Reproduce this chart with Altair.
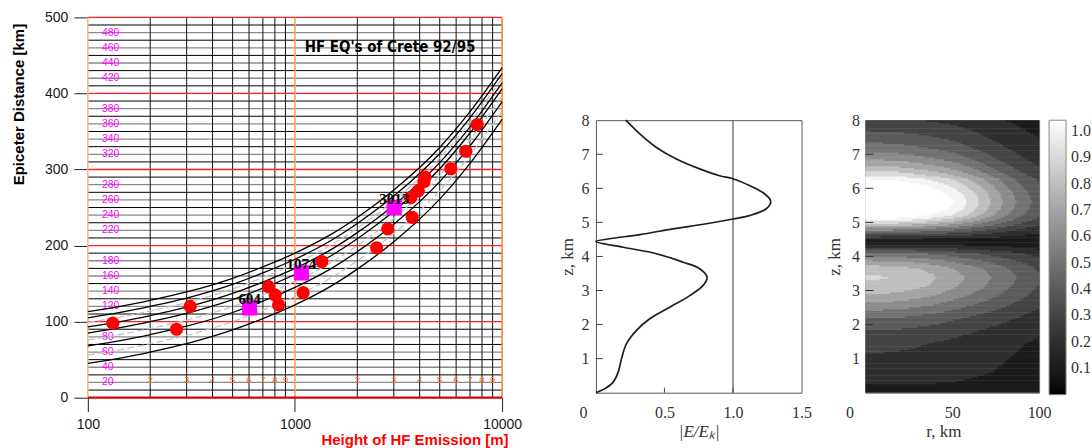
import altair as alt
import numpy as np
import pandas as pd

# ---------------- left panel: HF EQ's of Crete ----------------
H_GRID = [100, 150, 200, 300, 500, 700, 1000, 1500, 2000, 3000, 5000, 7000, 10000]
CURVE_A = [45, 53, 60, 71, 89, 104, 122, 147, 169, 205, 261, 308, 366]
CURVE_B = [68, 76, 83, 94, 112, 127, 145, 170, 192, 228, 284, 331, 389]
CURVE_C = [85, 93, 100, 111, 129, 144, 162, 187, 209, 245, 301, 348, 406]
CURVE_D = [93, 101, 108, 119, 137, 152, 170, 195, 217, 253, 309, 356, 414]
CURVE_E = [105, 113, 120, 131, 149, 164, 182, 207, 229, 265, 321, 368, 426]
CURVE_F = [113, 121, 128, 139, 157, 172, 190, 215, 237, 273, 329, 376, 434]
GREY_A = [56, 64, 71, 82, 100, 115, 133, 158, 180, 216, 272, 319, 377]
GREY_B = [76, 84, 91, 102, 120, 135, 153, 178, 200, 236, 292, 339, 397]
GREY_C = [99, 107, 114, 125, 143, 158, 176, 201, 223, 259, 315, 362, 420]

EQ_HEIGHT = [132, 268, 312, 745, 803, 833, 1095, 1348, 2481, 2803, 3620, 3683,
             3936, 4195, 4242, 5658, 6683, 7578]
EQ_DIST = [98, 90, 120, 146, 135, 122, 138, 179, 197, 222, 263, 237,
           272, 284, 290, 301, 324, 359]

REF_HEIGHT = [604, 1074, 3013]
REF_DIST = [118, 164, 250]
REF_LABEL = ["604", "1074", "3013"]

X_MAJOR = [100, 1000, 10000]
X_MINOR = [200, 300, 400, 500, 600, 700, 800, 900,
           2000, 3000, 4000, 5000, 6000, 7000, 8000, 9000]
MINOR_DIGITS = ["2", "3", "4", "5", "6", "7", "8", "9"] * 2
DIGIT_DIST = 23
Y_MAJOR = [0, 100, 200, 300, 400, 500]
Y_RED = [100, 200, 300, 400, 500]
Y_BLACK = [10, 30, 50, 70, 90, 110, 130, 150, 170, 190, 210, 230, 250, 270, 290,
           310, 330, 350, 370, 390, 410, 430, 450, 470, 490]
Y_GREY = [20, 40, 60, 80, 120, 140, 160, 180, 220, 240, 260, 280,
          320, 340, 360, 380, 420, 440, 460, 480]
PINK_H = 117
TITLE_TEXT = "HF EQ's of Crete 92/95"
TITLE_H, TITLE_D = 2877, 461

# ---------------- middle panel: |E/Ek| profile ----------------
Z_PROFILE = [8.0, 7.6, 7.2, 6.86, 6.57, 6.37, 6.28, 6.08, 5.84, 5.62, 5.40, 5.20,
             5.10, 4.96, 4.81, 4.64, 4.52, 4.44, 4.27, 4.08, 3.83, 3.64, 3.39, 3.15,
             2.85, 2.51, 2.17, 1.83, 1.44, 1.00, 0.61, 0.31, 0.12, 0.0]
E_PROFILE = [0.218, 0.32, 0.442, 0.587, 0.757, 0.903, 1.0, 1.12, 1.23, 1.275, 1.243, 1.12,
             1.0, 0.806, 0.563, 0.32, 0.102, 0.0, 0.199, 0.442, 0.636, 0.757, 0.811, 0.782,
             0.685, 0.539, 0.393, 0.296, 0.223, 0.187, 0.163, 0.126, 0.066, 0.0]
MID_X_TICKS = [0, 0.5, 1.0, 1.5]
Z_TICKS = [1, 2, 3, 4, 5, 6, 7, 8]

# ---------------- right panel: contour field ----------------
R_KM = [0, 10, 20, 30, 40, 50, 60, 70, 80, 90, 100]
FALL_UPPER = [1.0, 0.99, 0.965, 0.92, 0.86, 0.79, 0.69, 0.575, 0.46, 0.36, 0.28]
FALL_LOWER = [1.0, 0.995, 0.975, 0.93, 0.875, 0.80, 0.72, 0.64, 0.555, 0.47, 0.38]
LOBE_SPLIT_Z = 4.44
LEGEND_VALUES = [1.0, 0.9, 0.8, 0.7, 0.6, 0.5, 0.4, 0.3, 0.2, 0.1]

SANS = "Liberation Sans"
SERIF = "Liberation Serif"

# ======================= LEFT CHART =======================
LX_SCALE = alt.Scale(type="log", domain=[100, 10000], nice=False)
LY_SCALE = alt.Scale(domain=[0, 500], nice=False)
LX_AXIS = alt.Axis(values=X_MAJOR, format="d", labelFont=SANS, labelFontSize=14,
                   labelColor="#1a1a1a", labelPadding=6, labelFlush=False,
                   tickSize=14, tickColor="#222222", domain=False, grid=False,
                   title="Height of HF Emission [m]", titleColor="#ff0000", titleFont=SANS,
                   titleFontSize=15, titleFontWeight="bold", titleAlign="right",
                   titleAnchor="end", titleX=421, titleY=42, titleBaseline="middle")
LY_AXIS = alt.Axis(values=Y_MAJOR, labelFont=SANS, labelFontSize=14, labelColor="#1a1a1a",
                   labelPadding=6, tickSize=14, tickColor="#222222", domain=False, grid=False,
                   title="Epiceter Distance [km]", titleFont=SANS, titleFontSize=15,
                   titleFontWeight="bold", titleColor="#000000", titleAlign="right",
                   titleAnchor="end", titleX=-69, titleY=6, titleBaseline="middle")


def LX(f):
    return alt.X(f, type="quantitative", scale=LX_SCALE, axis=LX_AXIS)


def LY(f):
    return alt.Y(f, type="quantitative", scale=LY_SCALE, axis=LY_AXIS)


h_black = alt.Chart(pd.DataFrame({"d": Y_BLACK})).mark_rule(color="#000000", strokeWidth=1).encode(y=LY("d"))
h_grey = alt.Chart(pd.DataFrame({"d": Y_GREY})).mark_rule(color="#8a8a8a", strokeWidth=1.3).encode(y=LY("d"))
v_black = alt.Chart(pd.DataFrame({"h": X_MINOR})).mark_rule(color="#111111", strokeWidth=1).encode(x=LX("h"))
h_red = alt.Chart(pd.DataFrame({"d": Y_RED})).mark_rule(color="#ff2020", strokeWidth=1.3).encode(y=LY("d"))
v_1000 = alt.Chart(pd.DataFrame({"h": [1000]})).mark_rule(color="#ffa060", strokeWidth=1.6).encode(x=LX("h"))
v_left = alt.Chart(pd.DataFrame({"h": [100]})).mark_rule(color="#f5b080", strokeWidth=1.5).encode(x=LX("h"))
v_right = alt.Chart(pd.DataFrame({"h": [10000]})).mark_rule(color="#ff8030", strokeWidth=1.6).encode(x=LX("h"))
h_zero = alt.Chart(pd.DataFrame({"d": [0]})).mark_rule(color="#d80000", strokeWidth=2.2).encode(y=LY("d"))

pink = alt.Chart(pd.DataFrame({"h": [PINK_H] * len(Y_GREY), "d": Y_GREY,
                               "t": [str(v) for v in Y_GREY]})).mark_text(
    align="left", baseline="middle", color="#ff00ff", font=SANS, fontSize=10.5
).encode(x=LX("h"), y=LY("d"), text="t:N")

digits = alt.Chart(pd.DataFrame({"h": X_MINOR, "d": [DIGIT_DIST] * len(X_MINOR),
                                 "t": MINOR_DIGITS})).mark_text(
    align="center", baseline="middle", color="#ff7a1a", font=SANS, fontSize=10
).encode(x=LX("h"), y=LY("d"), text="t:N")

black_rows = []
for name, vals in [("A", CURVE_A), ("B", CURVE_B), ("C", CURVE_C),
                   ("D", CURVE_D), ("E", CURVE_E), ("F", CURVE_F)]:
    for h, d in zip(H_GRID, vals):
        black_rows.append({"h": h, "d": d, "c": name})
grey_rows = []
for name, vals in [("a", GREY_A), ("b", GREY_B), ("c", GREY_C)]:
    for h, d in zip(H_GRID, vals):
        grey_rows.append({"h": h, "d": d, "c": name})

grey_curves = alt.Chart(pd.DataFrame(grey_rows)).mark_line(
    interpolate="monotone", color="#c4c4c4", strokeWidth=1.3, strokeDash=[7, 3]
).encode(x=LX("h"), y=LY("d"), detail="c:N")
black_curves = alt.Chart(pd.DataFrame(black_rows)).mark_line(
    interpolate="monotone", color="#000000", strokeWidth=1.3
).encode(x=LX("h"), y=LY("d"), detail="c:N")

eq_pts = alt.Chart(pd.DataFrame({"h": EQ_HEIGHT, "d": EQ_DIST})).mark_circle(
    size=175, color="#ff0000", opacity=1
).encode(x=LX("h"), y=LY("d"))
ref_df = pd.DataFrame({"h": REF_HEIGHT, "d": REF_DIST, "t": REF_LABEL})
ref_sq = alt.Chart(ref_df).mark_square(size=230, color="#ff00ff", opacity=1).encode(x=LX("h"), y=LY("d"))
ref_txt = alt.Chart(ref_df).mark_text(
    font=SERIF, fontSize=15, fontWeight="bold", color="#000000", dy=-9, baseline="middle"
).encode(x=LX("h"), y=LY("d"), text="t:N")
title_txt = alt.Chart(pd.DataFrame({"h": [TITLE_H], "d": [TITLE_D], "t": [TITLE_TEXT]})).mark_text(
    font="Liberation Sans Narrow, DejaVu Sans Condensed, Liberation Sans", fontSize=15,
    fontWeight="bold", color="#000000", align="center", baseline="middle"
).encode(x=LX("h"), y=LY("d"), text="t:N")

left = alt.layer(
    h_black, h_grey, v_black, h_red, v_1000, v_left, v_right, h_zero,
    pink, digits, grey_curves, black_curves, eq_pts, ref_sq, ref_txt, title_txt
).properties(width=415, height=381, view=alt.ViewBackground(strokeOpacity=0))

# ======================= MIDDLE CHART =======================
ZERO_SHIFT_MID = {"condition": {"test": "datum.value == 0", "value": -13}, "value": 0}
ZERO_SHIFT_RIGHT = {"condition": {"test": "datum.value == 0", "value": -16}, "value": 0}

MX_SCALE = alt.Scale(domain=[0, 1.5], nice=False)
Z_SCALE = alt.Scale(domain=[0, 8], nice=False)
MX_AXIS = alt.Axis(values=MID_X_TICKS, labelExpr="datum.value == 0 ? '0' : format(datum.value, '.1f')",
                   labelFont=SERIF, labelFontSize=16, labelColor="#333333", labelPadding=12,
                   labelFlush=False, labelOffset=ZERO_SHIFT_MID, ticks=False, domain=False, grid=False,
                   title="|E/E\u2096|", titleFont=SERIF, titleFontSize=17, titleFontStyle="italic",
                   titleFontWeight="normal", titleColor="#333333", titlePadding=3)
MZ_AXIS = alt.Axis(values=Z_TICKS, format="d", labelFont=SERIF, labelFontSize=16,
                   labelColor="#333333", labelPadding=7, ticks=False, domain=False, grid=False,
                   title="z, km", titleFont=SERIF, titleFontSize=17, titleFontWeight="normal",
                   titleColor="#333333", titlePadding=4)


def MX(f):
    return alt.X(f, type="quantitative", scale=MX_SCALE, axis=MX_AXIS)


def MZ(f):
    return alt.Y(f, type="quantitative", scale=Z_SCALE, axis=MZ_AXIS)


prof_df = pd.DataFrame({"e": E_PROFILE, "z": Z_PROFILE, "i": list(range(len(Z_PROFILE)))})
mid_vline = alt.Chart(pd.DataFrame({"e": [1.0]})).mark_rule(color="#555555", strokeWidth=1.2).encode(x=MX("e"))
mid_curve = alt.Chart(prof_df).mark_line(
    interpolate="catmull-rom", color="#1e1e1e", strokeWidth=1.7
).encode(x=MX("e"), y=MZ("z"), order="i:Q")
mid_yticks = alt.Chart(pd.DataFrame({"z": Z_TICKS[:-1]})).mark_rule(color="#444444", strokeWidth=1).encode(
    y=MZ("z"), x=alt.value(0), x2=alt.value(7))
mid_xticks = alt.Chart(pd.DataFrame({"e": [0.5, 1.0]})).mark_rule(color="#444444", strokeWidth=1).encode(
    x=MX("e"), y=alt.value(273), y2=alt.value(268))

mid = alt.layer(mid_vline, mid_curve, mid_yticks, mid_xticks).properties(
    width=206, height=273, view=alt.ViewBackground(stroke="#555555", strokeWidth=1))

# ======================= RIGHT CHART =======================
zc = np.arange(0.025, 8.0, 0.05)
r_edges = np.arange(0, 101, 1.0)
rc = (r_edges[:-1] + r_edges[1:]) / 2
prof_up_z = np.array(Z_PROFILE[::-1])
prof_up_e = np.array(E_PROFILE[::-1])
rows = []
for z in zc:
    amp = np.interp(z, prof_up_z, prof_up_e)
    fall = np.interp(rc, R_KM, FALL_UPPER if z >= LOBE_SPLIT_Z else FALL_LOWER)
    lvl = np.minimum(np.floor(amp * fall * 10 + 1e-9), 10).astype(int)
    start = 0
    for j in range(1, len(rc) + 1):
        if j == len(rc) or lvl[j] != lvl[start]:
            k = lvl[start]
            shade = 1.04 if k >= 10 else k * 0.1 + 0.1
            rows.append({"r0": r_edges[start], "r1": min(r_edges[j] + 0.4, 100.0),
                         "z0": max(z - 0.025, 0.0), "z1": min(z + 0.04, 8.0),
                         "shade": round(shade, 3)})
            start = j
field_df = pd.DataFrame(rows)

SHADE_SCALE = alt.Scale(type="linear", domain=[0, 1.04], range=["#000000", "#ffffff"], nice=False)
RX_SCALE = alt.Scale(domain=[0, 100], nice=False)
RX_AXIS = alt.Axis(values=[0, 50, 100], format="d", labelFont=SERIF, labelFontSize=16,
                   labelColor="#333333", labelPadding=12, labelFlush=False,
                   labelOffset=ZERO_SHIFT_RIGHT, ticks=False, domain=False, grid=False,
                   title="r, km", titleFont=SERIF, titleFontSize=17, titleFontWeight="normal",
                   titleColor="#333333", titlePadding=3, titleX=78)
RZ_AXIS = alt.Axis(values=Z_TICKS, format="d", labelFont=SERIF, labelFontSize=16,
                   labelColor="#333333", labelPadding=6, ticks=False, domain=False, grid=False,
                   title="z, km", titleFont=SERIF, titleFontSize=17, titleFontWeight="normal",
                   titleColor="#333333", titlePadding=8)
LEGEND = alt.Legend(type="gradient", title=None, orient="right", offset=10, direction="vertical",
                    gradientLength=275, gradientThickness=17, values=LEGEND_VALUES,
                    format=".1f", labelFont=SERIF, labelFontSize=16, labelColor="#333333",
                    labelOverlap=False, gradientStrokeColor="#888888", gradientStrokeWidth=1,
                    padding=0, labelOffset=5)

field = alt.Chart(field_df).mark_rect(strokeWidth=0).encode(
    x=alt.X("r0:Q", scale=RX_SCALE, axis=RX_AXIS), x2="r1",
    y=alt.Y("z0:Q", scale=Z_SCALE, axis=RZ_AXIS), y2="z1",
    color=alt.Color("shade:Q", scale=SHADE_SCALE, legend=LEGEND),
)
right_ticks = alt.Chart(pd.DataFrame({"z0": Z_TICKS[:-1]})).mark_rule(color="#333333", strokeWidth=1).encode(
    y=alt.Y("z0:Q", scale=Z_SCALE, axis=RZ_AXIS), x=alt.value(0), x2=alt.value(8))

right = alt.layer(field, right_ticks).properties(
    width=174, height=273, view=alt.ViewBackground(stroke="#666666", strokeWidth=1))

# ======================= LAYOUT =======================
spacer = alt.Chart(pd.DataFrame({"s": [0]})).mark_point(opacity=0).encode(
    x=alt.X("s:Q", axis=None), y=alt.Y("s:Q", axis=None)
).properties(width=10, height=103, view=alt.ViewBackground(strokeOpacity=0))

inner = alt.hconcat(mid, right, spacing=64, bounds="flush").resolve_scale(color="independent")
col = alt.vconcat(spacer, inner, spacing=0, bounds="flush")
chart = alt.hconcat(left, col, spacing=94, bounds="flush").properties(
    padding={"left": 11, "top": 10, "right": 0, "bottom": 0},
    background="white",
).configure(font=SANS)

chart.save("out.html", embed_options={"renderer": "svg", "actions": False})
